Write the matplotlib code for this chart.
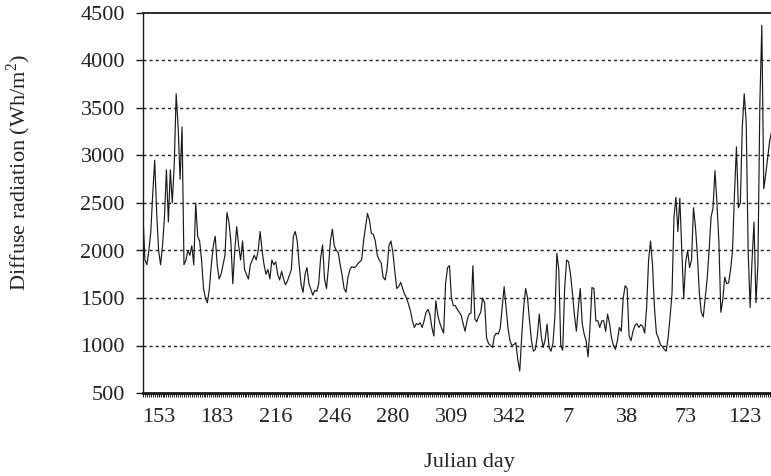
import numpy as np
import matplotlib.pyplot as plt

# daily diffuse radiation (Wh/m2), consecutive records starting a few days before day 153
diffuse = [
    2350, 1900, 1850, 2000, 2200, 2600, 2950, 2400, 2000, 1850,
    2050, 2350, 2850, 2300, 2850, 2500, 2900, 3650, 3300, 2750,
    3300, 1850, 1900, 2000, 1950, 2050, 1850, 2500, 2150, 2100,
    1900, 1600, 1500, 1450, 1600, 1850, 2050, 2150, 1850, 1700,
    1750, 1850, 1950, 2400, 2300, 2100, 1650, 2000, 2250, 2050,
    1900, 2100, 1800, 1750, 1700, 1850, 1900, 1950, 1900, 2000,
    2200, 2000, 1850, 1750, 1800, 1700, 1900, 1850, 1880, 1750,
    1690, 1780, 1700, 1640, 1680, 1740, 1800, 2150, 2200, 2100,
    1850, 1640, 1560, 1750, 1820, 1650, 1590, 1530, 1580, 1570,
    1650, 1920, 2060, 1700, 1600, 1820, 2100, 2225, 2050, 2000,
    1980, 1850, 1740, 1600, 1560, 1720, 1800, 1830, 1820, 1830,
    1860, 1880, 1900, 2100, 2250, 2390, 2320, 2180, 2170, 2100,
    1950, 1900, 1870, 1720, 1690, 1800, 2050, 2100, 1980, 1780,
    1600, 1620, 1665, 1600, 1540, 1500, 1435, 1365, 1260, 1190,
    1230, 1220, 1240, 1190, 1260, 1350, 1380, 1320, 1190, 1100,
    1470, 1320, 1240, 1180, 1130, 1650, 1820, 1840, 1500, 1420,
    1420, 1380, 1350, 1320, 1230, 1150, 1260, 1330, 1340, 1840,
    1280, 1250, 1310, 1350, 1500, 1450, 1080, 1020, 1000, 980,
    1100, 1130, 1120, 1180, 1400, 1620, 1400, 1180, 1050, 1000,
    1010, 1030, 850, 730, 1100, 1400, 1600, 1500, 1260, 1050,
    940, 960, 1100, 1330, 1100, 980, 1060, 1225, 980, 940,
    1020, 1300, 1970, 1800, 1000, 950, 1600, 1900, 1880, 1750,
    1550, 1320, 1150, 1400, 1600, 1230, 1120, 1050, 880, 1200,
    1610, 1600, 1260, 1260, 1190, 1260, 1260, 1150, 1330, 1230,
    1080, 1000, 960, 1050, 1190, 1150, 1500, 1630, 1600, 1100,
    1050, 1150, 1210, 1230, 1190, 1220, 1200, 1130, 1400, 1900,
    2100, 1850, 1400, 1130, 1080, 1010, 990, 960, 940, 1080,
    1300, 1550, 2350, 2560, 2200, 2550, 2000, 1500, 1880, 2000,
    1820, 1900, 2450, 2250, 1950, 1550, 1350, 1300, 1500, 1700,
    2000, 2350, 2450, 2840, 2500, 2100, 1350, 1480, 1720, 1650,
    1660, 1800, 2000, 2600, 3090, 2450, 2500, 3300, 3650, 3350,
    2000, 1400, 1900, 2300, 1450, 1850, 3550, 4370, 2650, 2800,
    2980, 3150, 3250, 3300,
]
day_labels = ['153', '183', '216', '246', '280', '309', '342', '7', '38', '73', '123']
first_label = 8      # record index of day 153
label_step = 30      # records between labels

plt.rcParams['font.family'] = ['Liberation Serif', 'DejaVu Serif']
plt.rcParams['mathtext.fontset'] = 'custom'
plt.rcParams['mathtext.rm'] = 'Liberation Serif'
text_color = '#222222'

fig = plt.figure(figsize=(7.71, 4.76), dpi=100)
# plot area runs past the right edge of the page
ax = fig.add_axes([143 / 771, 83 / 476, 652 / 771, 380 / 476])

x = np.arange(len(diffuse))
ax.plot(x, diffuse, color='#1a1a1a', linewidth=0.85)

ax.set_xlim(0, 334)
ax.set_ylim(500, 4500)
ax.set_yticks(np.arange(500, 4501, 500))
ticks = first_label + label_step * np.arange(len(day_labels))
ax.set_xticks(ticks)
ax.set_xticklabels(day_labels)
ax.set_xticks(np.arange(0, 335, 1), minor=True)

for v in range(1000, 4500, 500):
    ax.axhline(v, color='#222222', linewidth=1.0, linestyle=(0, (2.2, 2.2)), zorder=0)

ax.spines['right'].set_visible(False)
ax.spines['top'].set_linewidth(1.3)
ax.spines['left'].set_linewidth(1.0)
ax.spines['bottom'].set_linewidth(2.0)
for s in ax.spines.values():
    s.set_color('#1a1a1a')

ax.tick_params(axis='y', direction='out', length=5, width=1.0, pad=8,
               labelsize=16, labelcolor=text_color, color='#1a1a1a')
ax.tick_params(axis='x', which='major', direction='out', length=3, width=1.0, pad=8,
               labelsize=16, labelcolor=text_color, color='#1a1a1a')
ax.tick_params(axis='x', which='minor', direction='out', length=3, width=0.7, color='#1a1a1a')

ax.set_ylabel('Diffuse radiation (Wh/m$^2$)', fontsize=16, color=text_color)
ax.yaxis.set_label_coords(-0.168, 0.58)
ax.set_xlabel('Julian day', fontsize=16, color=text_color)
ax.xaxis.set_label_coords(0.5, -0.158)

fig.savefig('out.png', dpi=100)
